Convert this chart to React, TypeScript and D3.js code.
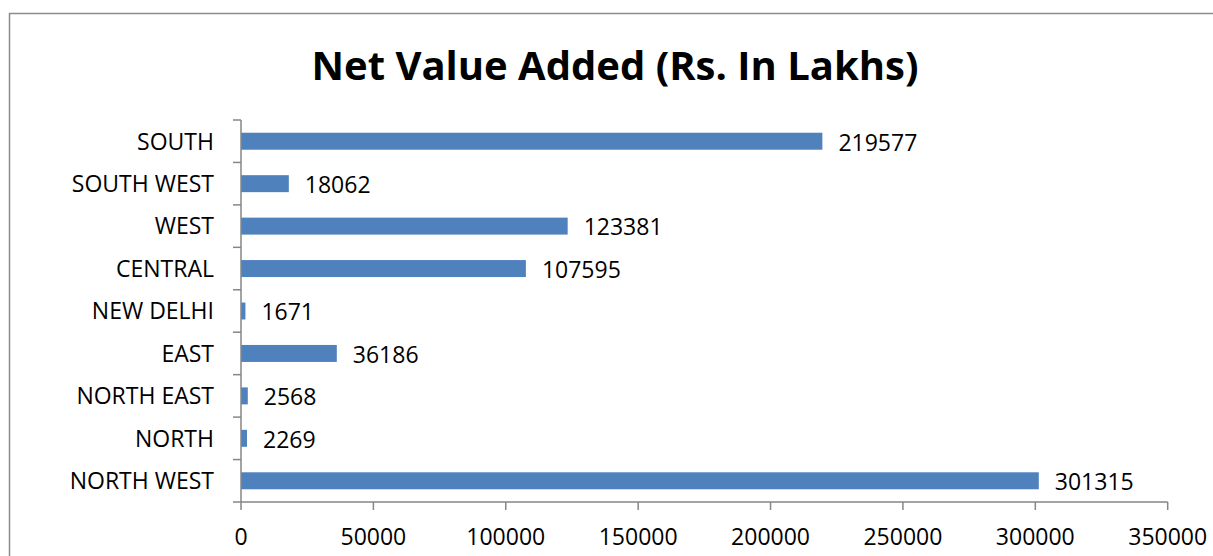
import React from "react";
import * as d3 from "d3";

const categories = ["SOUTH", "SOUTH WEST", "WEST", "CENTRAL", "NEW DELHI", "EAST", "NORTH EAST", "NORTH", "NORTH WEST"];
const values = [219577, 18062, 123381, 107595, 1671, 36186, 2568, 2269, 301315];
const xTicks = [0, 50000, 100000, 150000, 200000, 250000, 300000, 350000];
const title = "Net Value Added (Rs. In Lakhs)";

const W = 1213;
const H = 556;
const left = 241;
const right = 1167.7;
const top = 120;
const bottom = 502;
const FONT = "'Open Sans', sans-serif";

export default function App() {
  const x = d3.scaleLinear().domain([0, 350000]).range([left, right]);
  const y = d3.scaleBand<string>().domain(categories).range([top, bottom]).padding(0);
  const bw = y.bandwidth();
  const barH = bw * 0.4;
  const axisColor = "#868686";
  return (
    <svg width={W} height={H} style={{ position: "absolute", left: 0, top: 0, background: "#fff" }}>
      <rect x={9.5} y={13.5} width={1300} height={700} fill="none" stroke="#8c8c8c" strokeWidth={1.5} />
      <text x={615} y={80} textAnchor="middle" fontFamily={FONT} fontWeight="bold" fontSize={40} fill="#000">
        {title}
      </text>
      {categories.map((c, i) => {
        const yc = (y(c) as number) + bw / 2;
        return (
          <g key={c}>
            <rect x={x(0)} y={yc - barH / 2} width={x(values[i]) - x(0)} height={barH} fill="#4F81BD" />
            <text x={x(values[i]) + 16} y={yc + 1} dy="0.36em" fontFamily={FONT} fontSize={23} fill="#000">
              {values[i]}
            </text>
            <text x={214} y={yc} dy="0.36em" textAnchor="end" fontFamily={FONT} fontSize={23} fill="#000">
              {c}
            </text>
          </g>
        );
      })}
      {/* category axis */}
      <line x1={left} x2={left} y1={top} y2={bottom} stroke={axisColor} strokeWidth={1.5} />
      {d3.range(categories.length + 1).map((i) => {
        const yy = top + i * bw;
        return <line key={i} x1={left - 8} x2={left} y1={yy} y2={yy} stroke={axisColor} strokeWidth={1.5} />;
      })}
      {/* value axis */}
      <line x1={left} x2={right} y1={bottom} y2={bottom} stroke={axisColor} strokeWidth={1.5} />
      {xTicks.map((t) => (
        <g key={t}>
          <line x1={x(t)} x2={x(t)} y1={bottom} y2={bottom + 8} stroke={axisColor} strokeWidth={1.5} />
          <text x={x(t)} y={537} dy="0.36em" textAnchor="middle" fontFamily={FONT} fontSize={23} fill="#000">
            {t}
          </text>
        </g>
      ))}
    </svg>
  );
}
